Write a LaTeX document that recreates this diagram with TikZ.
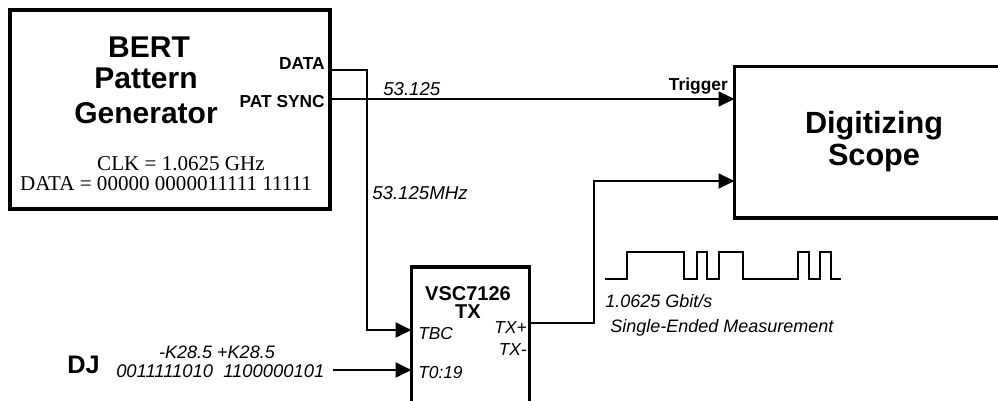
\documentclass[tikz,border=0pt]{standalone}
\usepackage{fontspec}
\setmainfont{Liberation Sans}
\newfontfamily\tms{Liberation Serif}
\usetikzlibrary{arrows.meta}
\tikzset{
  box/.style={draw, line width=2.4pt, rectangle, inner sep=0pt},
  wire/.style={line width=2.2pt},
  arr/.style={wire, -{Triangle[length=12pt,width=11pt]}},
  lbl/.style={inner sep=0pt, anchor=base},
  title/.style={lbl, font=\bfseries\fontsize{22.5pt}{25pt}\selectfont, align=center},
  port/.style={lbl, font=\bfseries\fontsize{13pt}{15pt}\selectfont},
  ital/.style={lbl, font=\itshape\fontsize{13.5pt}{15pt}\selectfont},
}
\begin{document}
\begin{tikzpicture}[x=0.75pt,y=-0.75pt]
\useasboundingbox (0,0) rectangle (998,400);
\begin{scope}
\clip (0,0) rectangle (998,400);
% boxes
\node[box, minimum width=320*0.75pt, minimum height=199*0.75pt] (bert) at (170,109.5) {};
\node[box, minimum width=280*0.75pt, minimum height=151.5*0.75pt] (scope) at (874.5,142.25) {};
\node[box, minimum width=118*0.75pt, minimum height=160*0.75pt] (tx) at (470.5,347) {};

% BERT texts
\node[title, anchor=base] (bt1) at (149,57) {BERT};
\node[title, anchor=base] (bt2) at (146,88) {Pattern};
\node[title, anchor=base] (bt3) at (146,123) {Generator};
\node[port, anchor=base east] (pdata) at (325,69) {DATA};
\node[port, anchor=base east] (psync) at (325,107) {PAT SYNC};
\node[lbl, font=\tms\fontsize{15.8pt}{17pt}\selectfont] (clk) at (181,170) {CLK = 1.0625 GHz};
\node[lbl, font=\tms\fontsize{15.8pt}{17pt}\selectfont] (dpat) at (166,190) {DATA = 00000 0000011111 11111};

% scope texts
\node[title, font=\bfseries\fontsize{23pt}{25pt}\selectfont] (st1) at (874,133) {Digitizing};
\node[title, font=\bfseries\fontsize{23pt}{25pt}\selectfont] (st2) at (874,165) {Scope};
\node[port, anchor=base east] (trig) at (728,90) {Trigger};

% TX texts
\node[lbl, font=\bfseries\fontsize{15pt}{17pt}\selectfont] (tx1) at (468,300) {VSC7126};
\node[lbl, font=\bfseries\fontsize{15pt}{17pt}\selectfont] (tx2) at (468,318) {TX};
\node[ital, anchor=base west, font=\itshape\fontsize{13pt}{15pt}\selectfont] (tbc) at (418,339) {TBC};
\node[ital, anchor=base west, font=\itshape\fontsize{13pt}{15pt}\selectfont] (t019) at (418,378) {T0:19};
\node[ital, anchor=base east, font=\itshape\fontsize{13pt}{15pt}\selectfont] (txp) at (527,333) {TX+};
\node[ital, anchor=base east, font=\itshape\fontsize{13pt}{15pt}\selectfont] (txm) at (527,355) {TX-};

% wire labels
\node[ital, anchor=base west, font=\itshape\fontsize{14pt}{15pt}\selectfont] (l53) at (383,95) {53.125};
\node[ital, anchor=base west, font=\itshape\fontsize{14pt}{15pt}\selectfont] (l53m) at (372,199) {53.125MHz};
\node[lbl, anchor=base west, font=\bfseries\fontsize{19pt}{21pt}\selectfont] (dj) at (67,373) {DJ};
\node[ital, anchor=base] (k1) at (217,358) {-K28.5 +K28.5};
\node[ital, anchor=base west, font=\itshape\fontsize{13.8pt}{15pt}\selectfont] (k2) at (116,377) {0011111010\ \ 1100000101};
\node[ital, anchor=base west] (rate) at (605,307) {1.0625 Gbit/s};
\node[ital, anchor=base west] (sem) at (610,332) {Single-Ended Measurement};

% coordinates
\coordinate (dataout) at (330,70);
\coordinate (syncout) at (330,99);
\coordinate (trigin) at (734.5,99);
\coordinate (tbcin) at (411.5,330);
\coordinate (tdin) at (411.5,370);
\coordinate (djstart) at (333,370);
\coordinate (txout) at (529.5,323);
\coordinate (scopein) at (734.5,181);

% connectors
\draw[arr] (dataout) -- (367,70) -- (367,330) -- (tbcin);
\draw[arr] (syncout) -- (trigin);
\draw[arr] (djstart) -- (tdin);
\draw[arr] (txout) -- (594,323) -- (594,181) -- (scopein);

% waveform
\draw[wire, line width=2pt] (605,279) -- (627,279) -- (627,252) -- (684,252) -- (684,279)
  -- (697,279) -- (697,252) -- (707,252) -- (707,279) -- (719,279) -- (719,252)
  -- (743,252) -- (743,279) -- (798,279) -- (798,252) -- (809,252) -- (809,279)
  -- (820,279) -- (820,252) -- (831,252) -- (831,279) -- (841,279);
\end{scope}
\end{tikzpicture}
\end{document}
